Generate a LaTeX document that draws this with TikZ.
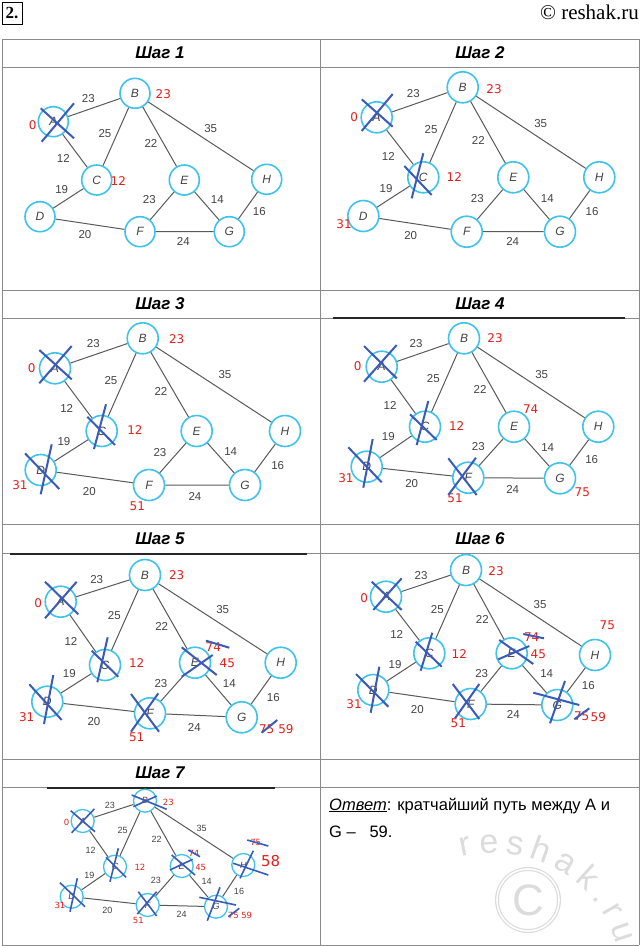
\documentclass[tikz,border=0pt]{standalone}
\usepackage{fontspec}
\setmainfont{Liberation Sans}
\newfontfamily\seriffam{Liberation Serif}
\newfontfamily\redfam{DejaVu Sans}
\usetikzlibrary{decorations.text}
\definecolor{nodecyan}{HTML}{3EC3EC}
\definecolor{edgegray}{HTML}{5A5A5A}
\definecolor{txtgray}{HTML}{444444}
\definecolor{redc}{HTML}{E3201B}
\definecolor{crossblue}{HTML}{3A5CB8}
\definecolor{gridgray}{HTML}{8A8A8A}
\definecolor{wm}{HTML}{DCDCDC}
\tikzset{
  vx/.style={circle, draw=nodecyan, line width=1.6pt, fill=white, minimum size=31pt, inner sep=0pt, font=\fontsize{12}{12}\selectfont\itshape, text=txtgray},
  vxs/.style={vx, minimum size=23pt, line width=1.3pt, font=\fontsize{9}{9}\selectfont\itshape},
  ed/.style={draw=edgegray, line width=1pt},
  wt/.style={text=txtgray, font=\fontsize{11.5}{12}\selectfont, inner sep=0pt},
  wts/.style={wt, font=\fontsize{9}{9}\selectfont},
  rd/.style={text=redc, font=\redfam\fontsize{12}{12}\selectfont, inner sep=0pt},
  rds/.style={rd, font=\redfam\fontsize{8.5}{9}\selectfont},
  xx/.style={draw=crossblue, line width=2pt},
  xxs/.style={draw=crossblue, line width=1.6pt},
  hd/.style={font=\fontsize{17}{17}\selectfont\bfseries\itshape, inner sep=0pt},
  gridline/.style={draw=gridgray, line width=1pt},
  darkline/.style={draw=black!85, line width=1.5pt}
}
\newcommand\grEdges[1]{\draw[ed] (#1A)--(#1B) (#1A)--(#1C) (#1B)--(#1C) (#1B)--(#1E) (#1B)--(#1H) (#1C)--(#1D) (#1D)--(#1F) (#1E)--(#1F) (#1E)--(#1G) (#1F)--(#1G) (#1G)--(#1H);}
\begin{document}
\begin{tikzpicture}[x=1pt,y=-1pt]
\useasboundingbox (0,0) rectangle (641,946);
\fill[white] (0,0) rectangle (641,946);
% top
\node[draw=black, line width=0.8pt, inner sep=1.5pt, minimum width=20pt, minimum height=22pt, font=\seriffam\bfseries\fontsize{17}{17}\selectfont] (num) at (12,13) {2.};
\node[anchor=east, font=\seriffam\fontsize{21}{21}\selectfont, inner sep=0pt] (copy) at (639,12) {© reshak.ru};
% grid
\foreach \yy in {39,67,290,318,524,553,759,787,945} {\draw[gridline] (2,\yy) -- (639,\yy);}
\draw[gridline] (2,39) -- (2,945);
\draw[gridline] (320,39) -- (320,945);
\draw[gridline] (639,39) -- (639,945);
\draw[darkline] (333,318) -- (625,318);
\draw[darkline] (10,554) -- (307,554);
\draw[darkline] (47,788) -- (275,788);
% headers
\node[hd] (h1) at (160,53) {Шаг 1};
\node[hd] (h2) at (480,53) {Шаг 2};
\node[hd] (h3) at (160,304) {Шаг 3};
\node[hd] (h4) at (480,304) {Шаг 4};
\node[hd] (h5) at (160,539) {Шаг 5};
\node[hd] (h6) at (480,539) {Шаг 6};
\node[hd] (h7) at (160,773) {Шаг 7};
% watermark
\draw[wm, line width=1.2pt, double=white, double distance=1.6pt] (528,900) circle (31);
\node[text=wm, font=\fontsize{44}{44}\selectfont] (wmc) at (528,900) {C};
\path[decorate, decoration={text along path, text align={fit to path}, text={|\fontsize{34}{34}\selectfont\color{wm}|reshak.ru}}]
  (462,857) .. controls (530,840) and (600,880) .. (616,944);
%================ Panel 1
\node[vx, minimum size=30pt] (p1A) at (53.3,121.7) {A};
\node[vx, minimum size=30pt] (p1B) at (135,93.3) {B};
\node[vx, minimum size=30pt] (p1C) at (96.7,180) {C};
\node[vx, minimum size=30pt] (p1D) at (40,216.7) {D};
\node[vx, minimum size=30pt] (p1E) at (184.3,180) {E};
\node[vx, minimum size=30pt] (p1F) at (140,231.7) {F};
\node[vx, minimum size=30pt] (p1G) at (229.3,231.7) {G};
\node[vx, minimum size=30pt] (p1H) at (266.7,179.3) {H};
\grEdges{p1}
\node[wt] (p1w1) at (88.3,98.3) {23};
\node[wt] (p1w2) at (105,133.3) {25};
\node[wt] (p1w3) at (63.3,158.3) {12};
\node[wt] (p1w4) at (151,143.3) {22};
\node[wt] (p1w5) at (210.7,128.3) {35};
\node[wt] (p1w6) at (61.7,189.3) {19};
\node[wt] (p1w7) at (149.3,199.3) {23};
\node[wt] (p1w8) at (217.3,199.3) {14};
\node[wt] (p1w9) at (259.3,211.7) {16};
\node[wt] (p1w10) at (85,235) {20};
\node[wt] (p1w11) at (183.3,241.7) {24};
\node[rd] (p1r1) at (163.3,94.3) {23};
\node[rd] (p1r2) at (32.7,125.3) {0};
\node[rd] (p1r3) at (118.3,180.7) {12};
\draw[xx] (40.7,108.3) -- (74,138.3) (41.7,141.7) -- (74,103.3);
%================ Panel 2
\node[vx] (p2A) at (376.7,117.3) {A};
\node[vx] (p2B) at (462.7,87.3) {B};
\node[vx] (p2C) at (423.3,177.3) {C};
\node[vx] (p2D) at (363.3,216) {D};
\node[vx] (p2E) at (513.3,177.3) {E};
\node[vx] (p2F) at (466.7,231.7) {F};
\node[vx] (p2G) at (560,231.7) {G};
\node[vx] (p2H) at (599.3,177.3) {H};
\grEdges{p2}
\node[wt] (p2w1) at (413.3,93.3) {23};
\node[wt] (p2w2) at (431,129.3) {25};
\node[wt] (p2w3) at (388.3,156) {12};
\node[wt] (p2w4) at (478.3,140) {22};
\node[wt] (p2w5) at (540.7,123.3) {35};
\node[wt] (p2w6) at (386,188.3) {19};
\node[wt] (p2w7) at (477.3,198.3) {23};
\node[wt] (p2w8) at (547.3,198.3) {14};
\node[wt] (p2w9) at (592,211.7) {16};
\node[wt] (p2w10) at (410.7,236) {20};
\node[wt] (p2w11) at (512.7,241.7) {24};
\node[rd] (p2r1) at (494,88.7) {23};
\node[rd] (p2r2) at (354.3,116.7) {0};
\node[rd] (p2r3) at (454.3,176.7) {12};
\node[rd] (p2r4) at (344,224.3) {31};
\draw[xx] (361.7,99.3) -- (392.7,126.7) (361.7,131) -- (392.7,94);
\draw[xx] (423.3,153.3) -- (411.7,198.3) (404.3,166) -- (431.7,195);
%================ Panel 3
\node[vx] (p3A) at (55,368.3) {A};
\node[vx] (p3B) at (142.7,338.3) {B};
\node[vx] (p3C) at (101.7,431) {C};
\node[vx] (p3D) at (40.7,470) {D};
\node[vx] (p3E) at (196.7,431) {E};
\node[vx] (p3F) at (149,485) {F};
\node[vx] (p3G) at (245,485) {G};
\node[vx] (p3H) at (285,431) {H};
\grEdges{p3}
\node[wt] (p3w1) at (93.3,343.3) {23};
\node[wt] (p3w2) at (111,381) {25};
\node[wt] (p3w3) at (66.7,408.3) {12};
\node[wt] (p3w4) at (161,391.7) {22};
\node[wt] (p3w5) at (225,375) {35};
\node[wt] (p3w6) at (64,441.7) {19};
\node[wt] (p3w7) at (160,452.7) {23};
\node[wt] (p3w8) at (230.7,451.7) {14};
\node[wt] (p3w9) at (277.7,466) {16};
\node[wt] (p3w10) at (89.3,491.7) {20};
\node[wt] (p3w11) at (195,496.7) {24};
\node[rd] (p3r1) at (176.7,339) {23};
\node[rd] (p3r2) at (31.7,367.7) {0};
\node[rd] (p3r3) at (135,430) {12};
\node[rd] (p3r4) at (20,485) {31};
\node[rd] (p3r5) at (137.3,506.7) {51};
\draw[xx] (39.3,350) -- (71.7,379.3) (39.3,383.3) -- (71.7,346);
\draw[xx] (106,404.3) -- (94,449) (87.3,416.7) -- (115,445);
\draw[xx] (51.7,444.3) -- (40.7,494.3) (25,453.3) -- (59.3,489);
%================ Panel 4
\node[vx] (p4A) at (381.7,366.7) {A};
\node[vx] (p4B) at (464,338.3) {B};
\node[vx] (p4C) at (425,426.7) {C};
\node[vx] (p4D) at (366.7,466.7) {D};
\node[vx] (p4E) at (514,426.7) {E};
\node[vx] (p4F) at (468.3,477.7) {F};
\node[vx] (p4G) at (560,478.3) {G};
\node[vx] (p4H) at (598.3,426.7) {H};
\grEdges{p4}
\node[wt] (p4w1) at (416,343.3) {23};
\node[wt] (p4w2) at (433.3,378.3) {25};
\node[wt] (p4w3) at (390,405) {12};
\node[wt] (p4w4) at (480,389.3) {22};
\node[wt] (p4w5) at (541.7,374.3) {35};
\node[wt] (p4w6) at (388.3,436.7) {19};
\node[wt] (p4w7) at (478.3,446.7) {23};
\node[wt] (p4w8) at (547.7,447.3) {14};
\node[wt] (p4w9) at (591.7,460) {16};
\node[wt] (p4w10) at (411.7,483.3) {20};
\node[wt] (p4w11) at (512.7,489) {24};
\node[rd] (p4r1) at (495,338.3) {23};
\node[rd] (p4r2) at (357.7,366) {0};
\node[rd] (p4r3) at (456.7,425.7) {12};
\node[rd] (p4r4) at (346,478.3) {31};
\node[rd] (p4r5) at (455,498.3) {51};
\node[rd] (p4r6) at (530.7,409) {74};
\node[rd] (p4r7) at (582.3,492.3) {75};
\draw[xx] (364,346) -- (396.7,378.3) (364,381.7) -- (396.7,345);
\draw[xx] (428.3,401) -- (416.7,445) (410,414.3) -- (436.7,440);
\draw[xx] (372.7,439) -- (363.3,487.7) (348.3,447.3) -- (381.7,482.3);
\draw[xx] (448.3,458.3) -- (476.7,495) (448.3,495) -- (476,457.7);
%================ Panel 5
\node[vx] (p5A) at (60.7,601.7) {A};
\node[vx] (p5B) at (145,575) {B};
\node[vx] (p5C) at (105,665) {C};
\node[vx] (p5D) at (47.3,701.7) {D};
\node[vx] (p5E) at (195,662.7) {E};
\node[vx] (p5F) at (150,713.3) {F};
\node[vx] (p5G) at (241.7,717.3) {G};
\node[vx] (p5H) at (280.7,662.7) {H};
\grEdges{p5}
\node[wt] (p5w1) at (96.7,580) {23};
\node[wt] (p5w2) at (114.3,615.7) {25};
\node[wt] (p5w3) at (71,641.7) {12};
\node[wt] (p5w4) at (161.7,626.7) {22};
\node[wt] (p5w5) at (222.7,610) {35};
\node[wt] (p5w6) at (69.3,674) {19};
\node[wt] (p5w7) at (161,684) {23};
\node[wt] (p5w8) at (229.3,684) {14};
\node[wt] (p5w9) at (273.3,697.3) {16};
\node[wt] (p5w10) at (94,721.7) {20};
\node[wt] (p5w11) at (194.3,727.3) {24};
\node[rd] (p5r1) at (176.7,575) {23};
\node[rd] (p5r2) at (38.3,602.7) {0};
\node[rd] (p5r3) at (136.7,662.7) {12};
\node[rd] (p5r4) at (26.7,716.7) {31};
\node[rd] (p5r5) at (136.7,737.3) {51};
\node[rd] (p5r6) at (213.3,646.7) {74};
\node[rd] (p5r7) at (227.3,663.3) {45};
\node[rd] (p5r8) at (266.7,729.3) {75};
\node[rd] (p5r9) at (286,729.3) {59};
\draw[xx] (206,640.7) -- (229.3,647.7);
\draw[xx] (261.7,732.7) -- (277.3,720);
\draw[xx] (45,581.7) -- (78.3,614.3) (45,618.3) -- (76.7,581.7);
\draw[xx] (107.7,637.3) -- (97.3,682.3) (91.7,650.7) -- (118.3,676.7);
\draw[xx] (53.3,675) -- (44,724) (29.3,684.3) -- (61.7,720);
\draw[xx] (181.7,647.3) -- (216.7,675) (181.7,676.7) -- (212.7,655);
\draw[xx] (131,694) -- (159,731.7) (131,731.7) -- (158.3,693.3);
%================ Panel 6
\node[vx] (p6A) at (386,596.7) {A};
\node[vx] (p6B) at (466,570) {B};
\node[vx] (p6C) at (429.3,653.3) {C};
\node[vx] (p6D) at (373.3,690) {D};
\node[vx] (p6E) at (511.7,653.3) {E};
\node[vx] (p6F) at (470.7,704) {F};
\node[vx] (p6G) at (557.3,705) {G};
\node[vx] (p6H) at (595,655) {H};
\grEdges{p6}
\node[wt] (p6w1) at (421,576) {23};
\node[wt] (p6w2) at (437.3,609.3) {25};
\node[wt] (p6w3) at (396.7,634) {12};
\node[wt] (p6w4) at (482.3,619.3) {22};
\node[wt] (p6w5) at (540,605) {35};
\node[wt] (p6w6) at (395,665) {19};
\node[wt] (p6w7) at (481.7,674) {23};
\node[wt] (p6w8) at (546.7,674) {14};
\node[wt] (p6w9) at (588.3,685.7) {16};
\node[wt] (p6w10) at (417.3,709.3) {20};
\node[wt] (p6w11) at (513.3,714) {24};
\node[rd] (p6r1) at (496,571) {23};
\node[rd] (p6r2) at (364.3,597.7) {0};
\node[rd] (p6r3) at (459.3,654) {12};
\node[rd] (p6r4) at (354,704.3) {31};
\node[rd] (p6r5) at (458.3,723.3) {51};
\node[rd] (p6r6) at (531.7,637.3) {74};
\node[rd] (p6r7) at (538.3,654) {45};
\node[rd] (p6r8) at (607.3,625) {75};
\node[rd] (p6r9) at (581.7,716.7) {75};
\node[rd] (p6r10) at (598.3,716.7) {59};
\draw[xx] (523.3,634) -- (544,638.3);
\draw[xx] (574.3,719.3) -- (589.3,708.3);
\draw[xx] (371.7,581.7) -- (401.7,610) (373.3,610) -- (401.7,578.3);
\draw[xx] (432.3,632.7) -- (420.7,670.7) (415.7,641.7) -- (441.7,666.7);
\draw[xx] (379.3,666.7) -- (370.7,712.7) (356,674) -- (388.3,706.7);
\draw[xx] (499.3,640) -- (533.3,664) (498.3,659.3) -- (529.3,646);
\draw[xx] (452.7,684) -- (479.3,719) (455,718.3) -- (479.3,684);
\draw[xx] (533.3,692.7) -- (579.3,705) (565,681) -- (550,723.3);
%================ Panel 7
\node[vxs] (p7A) at (82.7,821) {A};
\node[vxs] (p7B) at (145,800.7) {B};
\node[vxs] (p7C) at (115,866.7) {C};
\node[vxs] (p7D) at (71.7,896.7) {D};
\node[vxs] (p7E) at (181.7,866) {E};
\node[vxs] (p7F) at (147.7,905) {F};
\node[vxs] (p7G) at (216,906.7) {G};
\node[vxs] (p7H) at (243.3,865) {H};
\grEdges{p7}
\node[wts] (p7w1) at (110,805) {23};
\node[wts] (p7w2) at (122.7,830.7) {25};
\node[wts] (p7w3) at (90.7,850) {12};
\node[wts] (p7w4) at (156.7,839.3) {22};
\node[wts] (p7w5) at (201.7,828.3) {35};
\node[wts] (p7w6) at (89.3,875) {19};
\node[wts] (p7w7) at (156,880.7) {23};
\node[wts] (p7w8) at (206.7,881.7) {14};
\node[wts] (p7w9) at (239,891.7) {16};
\node[wts] (p7w10) at (107.3,910) {20};
\node[wts] (p7w11) at (181.7,914) {24};
\node[rds] (p7r1) at (168.3,802.7) {23};
\node[rds] (p7r2) at (66.7,822.3) {0};
\node[rds] (p7r3) at (140,867.3) {12};
\node[rds] (p7r4) at (60,905.7) {31};
\node[rds] (p7r5) at (138.3,920.7) {51};
\node[rds] (p7r6) at (194,853.3) {74};
\node[rds] (p7r7) at (200.7,867.3) {45};
\node[rds] (p7r8) at (255.7,842.7) {75};
\node[rd, font=\redfam\fontsize{15}{15}\selectfont] (p7r9) at (270.7,860.7) {58};
\node[rds] (p7r10) at (233.3,915) {75};
\node[rds] (p7r11) at (246.7,915) {59};
\draw[xxs] (188.3,850) -- (200,856.7);
\draw[xxs] (247.3,840) -- (268.3,846);
\draw[xxs] (228.3,916.7) -- (239.3,908.3);
\draw[xxs] (70.7,810.7) -- (95,831.7) (71.7,832.7) -- (94.3,809);
\draw[xxs] (131.7,795) -- (166.7,809.3) (133.3,806.7) -- (156.7,796);
\draw[xxs] (118.3,848.3) -- (110,881.7) (106,857.3) -- (126,877.3);
\draw[xxs] (77.3,878.3) -- (70,911.7) (60,882.7) -- (85,906.7);
\draw[xxs] (171.7,855) -- (195,875) (170,870) -- (192.7,859.3);
\draw[xxs] (138.3,891.7) -- (156.7,916) (137.3,914) -- (156.7,891.7);
\draw[xxs] (199.3,897.3) -- (236,905) (220,887.3) -- (207.3,920.7);
\draw[xxs] (233.3,863.3) -- (268.3,875) (253.3,850.7) -- (240,878.3);
% answer
\node[anchor=base west, inner sep=0pt, font=\fontsize{16.5}{16.5}\selectfont] (ans1) at (329,810) {\underline{\itshape Ответ}: кратчайший путь между А и};
\node[anchor=base west, inner sep=0pt, font=\fontsize{16.5}{16.5}\selectfont] (ans2) at (329,837) {G –\ \ \ 59.};
\end{tikzpicture}
\end{document}
